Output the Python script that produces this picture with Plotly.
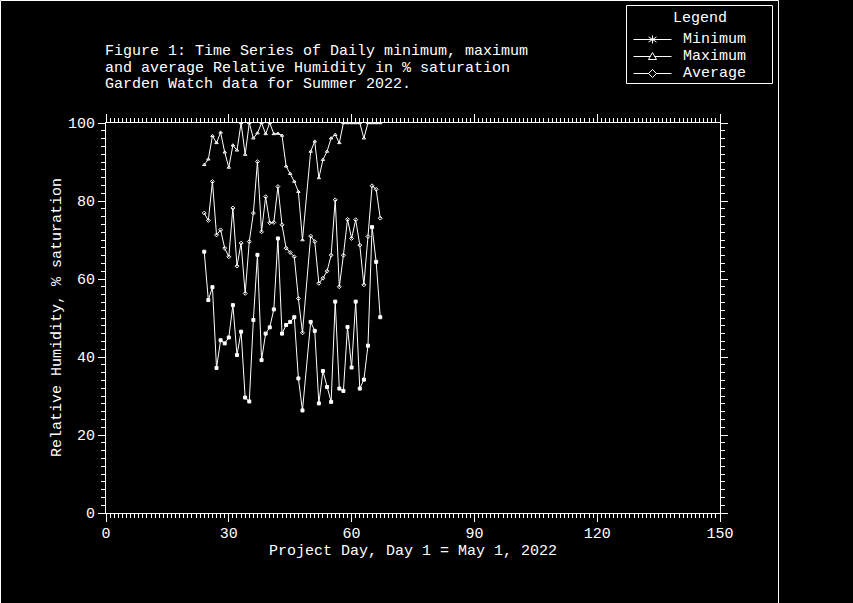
import plotly.graph_objects as go

# ---------------- data ----------------
days = [24, 25, 26, 27, 28, 29, 30, 31, 32, 33, 34, 35, 36, 37, 38, 39, 40, 41, 42, 43,
        44, 45, 46, 47, 48, 50, 51, 52, 53, 54, 55, 56, 57, 58, 59, 60, 61, 62, 63, 64,
        65, 66, 67]
rh_min = [67.0, 54.6, 57.9, 37.2, 44.3, 43.5, 45.0, 53.3, 40.5, 46.5, 29.6, 28.6, 49.5, 66.2,
          39.2, 46.0, 47.6, 52.2, 70.4, 46.0, 48.2, 49.0, 50.2, 34.5, 26.3, 49.0, 46.7, 28.1,
          36.4, 32.3, 28.5, 54.2, 31.9, 31.3, 47.7, 37.3, 54.2, 31.9, 34.2, 42.9, 73.3, 64.4,
          50.2]
rh_max = [89.3, 90.7, 96.7, 94.9, 97.6, 92.5, 88.6, 94.3, 93.0, 100.0, 91.9, 100.0, 96.1, 97.4,
          100.0, 97.2, 100.0, 97.2, 97.3, 96.8, 88.9, 87.0, 85.0, 82.4, 70.0, 92.7, 95.3, 85.9,
          90.6, 92.7, 96.1, 97.0, 94.9, 100.0, 100.0, 100.0, 100.0, 100.0, 96.1, 100.0, 100.0,
          100.0, 100.0]
rh_avg = [76.9, 75.0, 85.0, 71.3, 72.6, 67.9, 65.7, 78.2, 63.3, 69.2, 56.3, 69.6, 76.9, 90.1,
          72.1, 81.1, 74.4, 74.5, 83.7, 73.9, 67.9, 66.8, 65.7, 55.0, 46.2, 71.0, 69.6, 58.9,
          60.2, 62.0, 66.1, 80.3, 58.0, 66.1, 75.3, 70.4, 75.2, 68.7, 58.5, 70.9, 83.9, 83.0,
          75.6]

series_names = ["Minimum", "Maximum", "Average"]
plot_symbols = ["square", "triangle-up-open", "diamond-open"]
legend_title = "Legend"

title_lines = [
    "Figure 1: Time Series of Daily minimum, maximum",
    "and average Relative Humidity in % saturation",
    "Garden Watch data for Summer 2022.",
]
x_title = "Project Day, Day 1 = May 1, 2022"
y_title = "Relative Humidity, % saturation"

# ---------------- layout constants ----------------
W, H = 853, 603
L, R, T, B = 106, 133, 123, 90
PW, PH = W - L - R, H - T - B
FONT = "Liberation Mono"
FS = 15
WHITE = "#ffffff"
BLACK = "#000000"


def px2x(px):
    return (px - L) / PW


def py2y(py):
    return (H - B - py) / PH


def path(points, close=True):
    s = "M " + " L ".join(f"{px2x(a):.5f},{py2y(b):.5f}" for a, b in points)
    return s + (" Z" if close else "")


fig = go.Figure()

for name, ys, sym in zip(series_names, [rh_min, rh_max, rh_avg], plot_symbols):
    fig.add_trace(go.Scatter(
        x=days, y=ys, mode="lines+markers", name=name, showlegend=False,
        line=dict(color=WHITE, width=1),
        marker=dict(symbol=sym, size=3, color=WHITE, line=dict(color=WHITE, width=1)),
    ))

axis_common = dict(
    showline=True, linecolor=WHITE, linewidth=1, mirror="ticks",
    ticks="outside", tickcolor=WHITE, tickwidth=1,
    showgrid=False, zeroline=False,
    tickfont=dict(family=FONT, size=FS, color=WHITE),
)

fig.update_xaxes(
    range=[0, 150], tick0=0, dtick=30, ticklen=8, ticklabelstandoff=-2,
    minor=dict(dtick=1, ticklen=4, ticks="outside", tickcolor=WHITE, showgrid=False),
    **axis_common,
)
fig.update_yaxes(
    range=[0, 100], tick0=0, dtick=20, ticklen=7,
    minor=dict(dtick=2, ticklen=4, ticks="outside", tickcolor=WHITE, showgrid=False),
    **axis_common,
)

annotations = []
for i, line in enumerate(title_lines):
    annotations.append(dict(
        text=line, x=px2x(104), y=py2y(51 + 17 * i), xref="paper", yref="paper",
        xanchor="left", yanchor="middle", showarrow=False, borderpad=0,
        font=dict(family=FONT, size=FS, color=WHITE),
    ))
annotations.append(dict(
    text=x_title, x=px2x(413), y=py2y(551), xref="paper", yref="paper",
    xanchor="center", yanchor="middle", showarrow=False,
    font=dict(family=FONT, size=FS, color=WHITE),
))
annotations.append(dict(
    text=y_title, x=px2x(57), y=py2y(318), xref="paper", yref="paper",
    xanchor="center", yanchor="middle", showarrow=False, textangle=-90,
    font=dict(family=FONT, size=FS, color=WHITE),
))

# frame around the drawing window
shapes = [
    dict(type="line", xref="paper", yref="paper", x0=px2x(0.5), x1=px2x(778.5),
         y0=py2y(0.5), y1=py2y(0.5), line=dict(color=WHITE, width=1)),
    dict(type="line", xref="paper", yref="paper", x0=px2x(0.5), x1=px2x(0.5),
         y0=py2y(0.5), y1=py2y(603), line=dict(color=WHITE, width=1)),
    dict(type="line", xref="paper", yref="paper", x0=px2x(778.5), x1=px2x(778.5),
         y0=py2y(0.5), y1=py2y(603), line=dict(color=WHITE, width=1)),
]

# ---------------- legend (box, title, entries) ----------------
LX0, LX1, LY0, LY1 = 626.5, 772.5, 5.5, 83.5
shapes.append(dict(type="rect", xref="paper", yref="paper",
                   x0=px2x(LX0), x1=px2x(LX1), y0=py2y(LY0), y1=py2y(LY1),
                   line=dict(color=WHITE, width=1), fillcolor=BLACK, layer="above"))
annotations.append(dict(
    text=legend_title, x=px2x(699.5), y=py2y(18), xref="paper", yref="paper",
    xanchor="center", yanchor="middle", showarrow=False, borderpad=0,
    font=dict(family=FONT, size=FS, color=WHITE),
))
entry_y = [39.5, 56.5, 73.5]
sx0, sx1, cx = 633.5, 671.5, 652.5
for name, cy in zip(series_names, entry_y):
    shapes.append(dict(type="line", xref="paper", yref="paper",
                       x0=px2x(sx0), x1=px2x(sx1), y0=py2y(cy), y1=py2y(cy),
                       line=dict(color=WHITE, width=1), layer="above"))
    annotations.append(dict(
        text=name, x=px2x(682), y=py2y(cy), xref="paper", yref="paper",
        xanchor="left", yanchor="middle", showarrow=False, borderpad=0,
        font=dict(family=FONT, size=FS, color=WHITE),
    ))

# legend symbols: asterisk, triangle, diamond
cy = entry_y[0]
for (a, b), (c, d) in [((cx, cy - 4), (cx, cy + 4)),
                       ((cx - 4, cy - 2.5), (cx + 4, cy + 2.5)),
                       ((cx - 4, cy + 2.5), (cx + 4, cy - 2.5))]:
    shapes.append(dict(type="path", xref="paper", yref="paper",
                       path=path([(a, b), (c, d)], close=False),
                       line=dict(color=WHITE, width=1), layer="above"))
cy = entry_y[1]
shapes.append(dict(type="path", xref="paper", yref="paper",
                   path=path([(cx, cy - 4), (cx + 4, cy + 3), (cx - 4, cy + 3)]),
                   line=dict(color=WHITE, width=1), fillcolor=BLACK, layer="above"))
cy = entry_y[2]
shapes.append(dict(type="path", xref="paper", yref="paper",
                   path=path([(cx, cy - 4), (cx + 4, cy), (cx, cy + 4), (cx - 4, cy)]),
                   line=dict(color=WHITE, width=1), fillcolor=BLACK, layer="above"))

fig.update_layout(
    width=W, height=H,
    margin=dict(l=L, r=R, t=T, b=B, pad=0),
    paper_bgcolor=BLACK, plot_bgcolor=BLACK,
    font=dict(family=FONT, size=FS, color=WHITE),
    annotations=annotations, shapes=shapes,
    showlegend=False,
)

fig.write_html("out.html")
